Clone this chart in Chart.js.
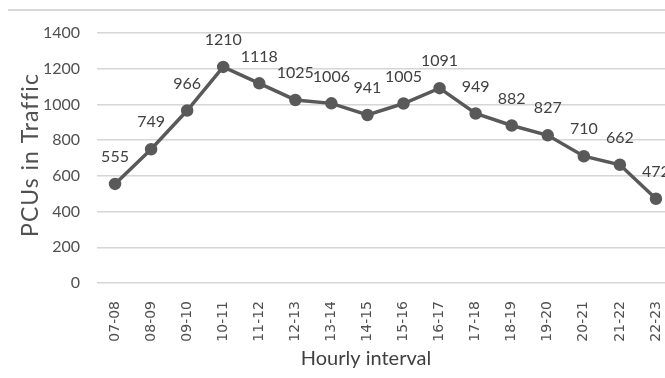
<!DOCTYPE html>
<html>
<head>
<meta charset="utf-8">
<script src="https://cdn.jsdelivr.net/npm/chart.js@4"></script>
<style>
  html, body { margin: 0; padding: 0; background: #ffffff; overflow: hidden; }
  #wrap { position: relative; width: 691px; height: 378px; }
</style>
</head>
<body>
<div id="wrap"><canvas id="chart" width="691" height="378"></canvas></div>
<script>
// Hourly traffic volume in passenger car units
const intervals = ['07-08','08-09','09-10','10-11','11-12','12-13','13-14','14-15',
                   '15-16','16-17','17-18','18-19','19-20','20-21','21-22','22-23'];
const pcuValues = [555, 749, 966, 1210, 1118, 1025, 1006, 941,
                   1005, 1091, 949, 882, 827, 710, 662, 472];
const yTicks = [0, 200, 400, 600, 800, 1000, 1200, 1400];
const xTitle = 'Hourly interval';
const yTitle = 'PCUs in Traffic';

const lineColor = '#595959';
const textColor = '#505050';
const gridColor = '#d6d6d6';

// Writes each point's value just above its marker
const valueLabels = {
  id: 'valueLabels',
  afterDatasetsDraw(chart) {
    const ctx = chart.ctx;
    const meta = chart.getDatasetMeta(0);
    ctx.save();
    ctx.font = '16px Lato';
    ctx.fillStyle = '#404040';
    ctx.textAlign = 'center';
    ctx.textBaseline = 'middle';
    meta.data.forEach((pt, i) => {
      ctx.fillText(String(chart.data.datasets[0].data[i]), pt.x, pt.y - 27);
    });
    ctx.restore();
  }
};

// Frame line along the top, plus the two axis titles
const frameAndTitles = {
  id: 'frameAndTitles',
  beforeDraw(chart) {
    const ctx = chart.ctx;
    ctx.save();
    ctx.strokeStyle = '#d9d9d9';
    ctx.lineWidth = 2;
    ctx.beginPath();
    ctx.moveTo(8, 10);
    ctx.lineTo(chart.width, 10);
    ctx.stroke();
    ctx.restore();
  },
  afterDraw(chart) {
    const ctx = chart.ctx;
    ctx.save();
    ctx.textAlign = 'center';
    ctx.textBaseline = 'middle';
    ctx.fillStyle = '#404040';
    ctx.font = '20px Lato';
    ctx.fillText(xTitle, 366, 359);
    ctx.fillStyle = textColor;
    ctx.font = '23px Lato';
    ctx.letterSpacing = '1px';
    ctx.translate(31, 155);
    ctx.rotate(-Math.PI / 2);
    ctx.fillText(yTitle, 0, 0);
    ctx.restore();
  }
};

new Chart(document.getElementById('chart'), {
  type: 'line',
  data: {
    labels: intervals,
    datasets: [{
      data: pcuValues,
      borderColor: lineColor,
      backgroundColor: lineColor,
      borderWidth: 3.5,
      pointRadius: 4.5,
      pointBackgroundColor: lineColor,
      pointBorderColor: lineColor,
      tension: 0,
      fill: false
    }]
  },
  options: {
    responsive: false,
    animation: false,
    devicePixelRatio: 1,
    layout: { padding: { top: 33, left: 18, right: 0, bottom: 8 } },
    plugins: {
      legend: { display: false },
      tooltip: { enabled: false }
    },
    scales: {
      x: {
        offset: true,
        grid: { display: false, drawTicks: false },
        border: { display: false },
        ticks: {
          color: textColor,
          font: { family: '"DejaVu Sans"', size: 14 },
          minRotation: 90,
          maxRotation: 90,
          autoSkip: false,
          padding: 18
        },
        afterFit(scale) { scale.height = 87; }
      },
      y: {
        min: 0,
        max: 1400,
        afterBuildTicks(scale) { scale.ticks = yTicks.map(v => ({ value: v })); },
        grid: { color: gridColor, lineWidth: 1.5, drawTicks: false },
        border: { display: false },
        ticks: {
          color: textColor,
          font: { family: 'Lato', size: 16 },
          padding: 17,
          callback: (v) => String(v)
        },
        afterFit(scale) { scale.width = 79; }
      }
    }
  },
  plugins: [valueLabels, frameAndTitles]
});
</script>
</body>
</html>
